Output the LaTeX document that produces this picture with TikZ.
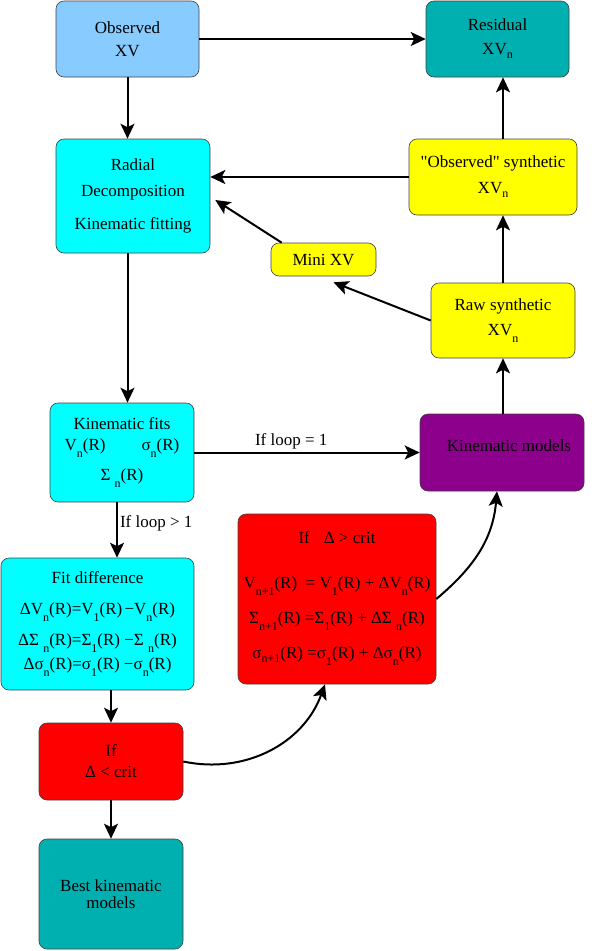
\documentclass[tikz,border=0pt]{standalone}
\usepackage{fontspec}
\setmainfont{Liberation Serif}
\usetikzlibrary{arrows.meta,positioning}
\definecolor{skyblue}{HTML}{88CCFF}
\definecolor{tealbox}{HTML}{00B0B0}
\definecolor{cyanbox}{HTML}{00FFFF}
\definecolor{yellowbox}{HTML}{FFFF00}
\definecolor{purplebox}{HTML}{8C008C}
\definecolor{redbox}{HTML}{FF0000}
\newcommand{\lo}[1]{\raisebox{-7pt}{\fontsize{12}{12}\selectfont #1}}
\newcommand{\slo}[1]{\raisebox{-4pt}{\fontsize{12}{12}\selectfont #1}}
\tikzset{
  box/.style={draw=black!75,line width=0.6pt,rounded corners=8pt,align=center,
              inner sep=2pt,font=\fontsize{17}{21}\selectfont},
  flow/.style={-{Stealth[length=15pt,width=14pt,inset=3.5pt]},line width=2pt,draw=black},
  lbl/.style={font=\fontsize{17}{21}\selectfont,inner sep=2pt}
}
\begin{document}
\begin{tikzpicture}[x=1pt,y=1pt]
  \useasboundingbox (0,0) rectangle (598,-951);
  % top row
  \node[box,fill=skyblue,minimum width=143pt,minimum height=76pt] (obs) at (127.5,-39)
    {Observed\\[2pt]XV};
  \node[box,fill=tealbox,minimum width=143pt,minimum height=76pt] (res) at (497.5,-39)
    {Residual\\[3pt]XV\slo{n}};
  % fitting and synthetics
  \node[box,fill=cyanbox,minimum width=154pt,minimum height=114pt] (radial) at (133,-196)
    {Radial\\[5pt]Decomposition\\[12pt]Kinematic fitting};
  \node[box,fill=yellowbox,minimum width=168pt,minimum height=76pt] (obssyn) at (493,-177)
    {\textquotedbl Observed\textquotedbl{} synthetic\\[5pt]XV\slo{n}};
  \node[box,fill=yellowbox,minimum width=105pt,minimum height=33pt] (mini) at (323.5,-259.5)
    {Mini XV};
  \node[box,fill=yellowbox,minimum width=144pt,minimum height=75pt] (raw) at (503,-320.5)
    {Raw synthetic\\[4pt]XV\lo{n}};
  % fits and models
  \node[box,fill=cyanbox,minimum width=144pt,minimum height=99pt] (fits) at (122,-452.5)
    {Kinematic fits\\V\lo{n}(R)\hspace{36pt}σ\lo{n}(R)\\[9pt]Σ \lo{n}(R)};
  \node[box,fill=purplebox,minimum width=164pt,minimum height=77pt] (models) at (502,-452.5)
    {\hspace*{14pt}Kinematic models\\[-8pt]\mbox{}};
  \node[box,fill=redbox,minimum width=198pt,minimum height=170pt] (gtcrit) at (337,-599)
    {If\hspace{14pt}Δ > crit\\[24pt]
     V\lo{n+1}(R) \ = V\lo{1}(R) + ΔV\lo{n}(R)\\[14pt]
     Σ\lo{n+1}(R) =Σ\lo{1}(R) + ΔΣ \lo{n}(R)\\[14pt]
     σ\slo{n+1}(R) =σ\lo{1}(R) + Δσ\lo{n}(R)};
  \node[box,fill=cyanbox,minimum width=193pt,minimum height=132pt] (fitdiff) at (97.5,-624)
    {Fit difference\\[10pt]
     ΔV\lo{n}(R)=V\lo{1}(R) \kern-2pt−V\lo{n}(R)\\[10pt]
     ΔΣ \lo{n}(R)=Σ\lo{1}(R) −Σ \lo{n}(R)\\[3pt]
     Δσ\lo{n}(R)=σ\lo{1}(R) −σ\lo{n}(R)};
  % decision and result
  \node[box,fill=redbox,minimum width=144pt,minimum height=77pt] (ltcrit) at (111,-761.5)
    {If\\Δ < crit};
  \node[box,fill=tealbox,minimum width=144pt,minimum height=110pt] (best) at (111,-894)
    {Best kinematic\\[-4pt]models};

  \draw[flow] (obs.east) -- (res.west);
  \draw[flow] (obs.south) -- (obs.south |- radial.north);
  \draw[flow] (obssyn.west) -- (obssyn.west -| radial.east);
  \draw[flow] (raw.north |- obssyn.north) -- (raw.north |- res.south);
  \draw[flow] (raw.north) -- (raw.north |- obssyn.south);
  \draw[flow] (raw.south |- models.north) -- (raw.south);
  \draw[flow] ([xshift=11pt]mini.north west) -- ([shift={(5pt,-4pt)}]radial.east);
  \draw[flow] (raw.west) -- ([shift={(10pt,-6pt)}]mini.south);
  \draw[flow] (radial.south -| obs.south) -- (fits.north -| obs.south);
  \draw[flow] (fits.east) -- node[lbl,above,pos=0.43] {If loop = 1} (models.west);
  \draw[flow] ([xshift=-5pt]fits.south) --
    node[lbl,right,pos=0.38] {If loop > 1} ([xshift=-5pt]fits.south |- fitdiff.north);
  \draw[flow] (fitdiff.south -| ltcrit.north) -- (ltcrit.north);
  \draw[flow] (ltcrit.south) -- (best.north);
  \draw[flow] (ltcrit.east) to[out=-12,in=-110] ([xshift=-12pt]gtcrit.south);
  \draw[flow] (gtcrit.east) to[out=40,in=-95] ([xshift=-5pt]models.south);
\end{tikzpicture}
\end{document}
